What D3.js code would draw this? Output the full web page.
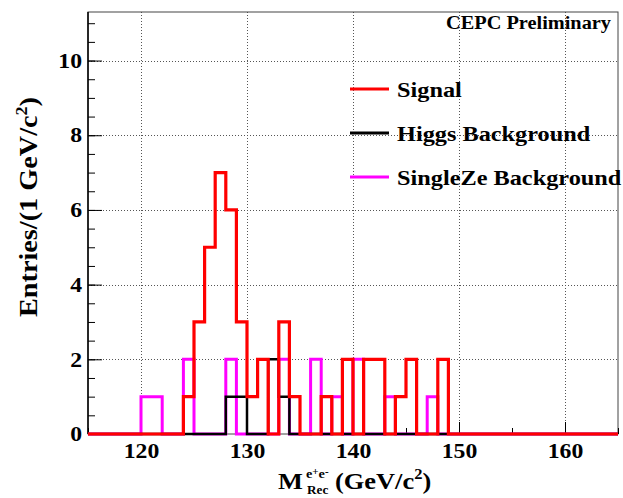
<!DOCTYPE html>
<html>
<head>
<meta charset="utf-8">
<script src="https://d3js.org/d3.v7.min.js"></script>
<style>
  body { margin: 0; background: #fff; }
  text { font-family: "Liberation Serif", "Times New Roman", serif; font-weight: bold; fill: #000; }
</style>
</head>
<body>
<script>
"use strict";

// histogram binning: 1 GeV bins from 115 to 165
var binLow = 115, binHigh = 165;

// entries per bin (115..164)
var signal = [
  0,0,0,0,0,0,0,0,0,1,
  3,5,7,6,3,1,2,0,3,1,
  0,0,1,0,2,0,2,2,0,1,
  2,0,0,2,0,0,0,0,0,0,
  0,0,0,0,0,0,0,0,0,0
];
var higgsBkg = [
  0,0,0,0,0,0,0,0,0,0,
  0,0,0,1,1,0,0,2,1,0,
  0,0,0,0,0,0,0,0,0,0,
  0,0,0,0,0,0,0,0,0,0,
  0,0,0,0,0,0,0,0,0,0
];
var singleZeBkg = [
  0,0,0,0,0,1,1,0,0,2,
  0,0,0,2,0,0,0,0,2,0,
  0,2,0,1,0,2,0,0,1,0,
  0,0,1,0,0,0,0,0,0,0,
  0,0,0,0,0,0,0,0,0,0
];

var xMajor = [120, 130, 140, 150, 160];
var xMinor = [115, 125, 135, 145, 155, 165];
var yMajor = [0, 2, 4, 6, 8, 10];
var yMinor = d3.range(0, 11.01, 0.5);
var yMax = 11.3;

var legendItems = [
  {name: "Signal", color: "#ff0000"},
  {name: "Higgs Background", color: "#000000"},
  {name: "SingleZe Background", color: "#ff00ff"}
];

var width = 623, height = 498;
var frame = {left: 88, right: 618, top: 12, bottom: 434};
var K = 1.13; // ROOT's Times glyphs come out wider than Liberation Serif

var svg = d3.select("body").append("svg")
    .attr("width", width)
    .attr("height", height);

var x = d3.scaleLinear().domain([binLow, binHigh]).range([frame.left, frame.right]);
var y = d3.scaleLinear().domain([0, yMax]).range([frame.bottom, frame.top]);

// widen a text around its anchor point
function stretch(sel, k) {
  sel.each(function() {
    var t = d3.select(this);
    var tx = +t.attr("x") || 0, ty = +t.attr("y") || 0;
    var pre = t.attr("transform") || "";
    t.attr("x", 0).attr("y", 0)
     .attr("transform", pre + " translate(" + tx + "," + ty + ") scale(" + k + ",1)");
  });
}

// dotted grid
var grid = svg.append("g").attr("class", "grid")
    .attr("stroke", "#555").attr("stroke-width", 1).attr("stroke-dasharray", "1,2");
grid.selectAll("line.gx").data(xMajor).enter().append("line")
    .attr("x1", d => Math.round(x(d)) + 0.5).attr("x2", d => Math.round(x(d)) + 0.5)
    .attr("y1", frame.top).attr("y2", frame.bottom);
grid.selectAll("line.gy").data(yMajor.filter(d => d > 0)).enter().append("line")
    .attr("y1", d => Math.round(y(d)) + 0.5).attr("y2", d => Math.round(y(d)) + 0.5)
    .attr("x1", frame.left).attr("x2", frame.right);

// frame
svg.append("rect")
    .attr("x", frame.left).attr("y", frame.top)
    .attr("width", frame.right - frame.left).attr("height", frame.bottom - frame.top)
    .attr("fill", "none").attr("stroke", "#444").attr("stroke-width", 1);

// axes with ROOT style inward ticks
function styleAxis(g) {
  g.select(".domain").remove();
  g.selectAll(".tick line").attr("stroke", "#000").attr("stroke-width", 1);
}
svg.append("g").attr("transform", "translate(0," + frame.bottom + ")")
    .call(d3.axisBottom(x).tickValues(xMinor).tickSize(-6).tickFormat(""))
    .call(styleAxis);
svg.append("g").attr("transform", "translate(0," + frame.bottom + ")")
    .call(d3.axisBottom(x).tickValues(xMajor).tickSize(-12).tickPadding(21).tickFormat(d3.format("d")))
    .call(styleAxis)
    .call(g => g.selectAll("text").attr("font-size", 21).attr("fill", "#000").attr("dy", "0.15em"))
    .call(g => stretch(g.selectAll("text"), K));
svg.append("g").attr("transform", "translate(" + frame.left + ",0)")
    .call(d3.axisLeft(y).tickValues(yMinor).tickSize(-7).tickFormat(""))
    .call(styleAxis);
svg.append("g").attr("transform", "translate(" + frame.left + ",0)")
    .call(d3.axisLeft(y).tickValues(yMajor).tickSize(-14).tickPadding(6).tickFormat(d3.format("d")))
    .call(styleAxis)
    .call(g => g.selectAll("text").attr("font-size", 21).attr("fill", "#000"))
    .call(g => stretch(g.selectAll("text"), K));

// left axis line
svg.append("line")
    .attr("x1", frame.left).attr("x2", frame.left)
    .attr("y1", frame.top).attr("y2", frame.bottom)
    .attr("stroke", "#000").attr("stroke-width", 1.5);

// histograms as step outlines
function stepPoints(vals) {
  var pts = vals.map((v, i) => [binLow + i, v]);
  pts.push([binLow + vals.length, vals[vals.length - 1]]);
  return pts;
}
var line = d3.line()
    .x(d => x(d[0]))
    .y(d => y(d[1]))
    .curve(d3.curveStepAfter);

var drawOrder = [
  {data: singleZeBkg, color: "#ff00ff", w: 3},
  {data: higgsBkg, color: "#000000", w: 2.5},
  {data: signal, color: "#ff0000", w: 3.2}
];
svg.selectAll("path.hist").data(drawOrder).enter().append("path")
    .attr("class", "hist")
    .attr("d", d => line(stepPoints(d.data)))
    .attr("fill", "none")
    .attr("stroke", d => d.color)
    .attr("stroke-width", d => d.w);

// legend
var leg = svg.append("g").attr("class", "legend");
legendItems.forEach(function(item, i) {
  var ly = 89 + i * 44;
  leg.append("line")
      .attr("x1", 350).attr("x2", 389).attr("y1", ly).attr("y2", ly)
      .attr("stroke", item.color).attr("stroke-width", 3);
  leg.append("text")
      .attr("x", 397).attr("y", ly + 7.5)
      .attr("font-size", 21.5)
      .text(item.name);
});
stretch(leg.selectAll("text"), K);

// CEPC label
svg.append("text")
    .attr("x", 611).attr("y", 29)
    .attr("text-anchor", "end")
    .attr("font-size", 18)
    .text("CEPC Preliminary")
    .call(t => stretch(t, K));

// y axis title
var yt = svg.append("text")
    .attr("transform", "translate(37,207) rotate(-90) scale(" + K + ",1)")
    .attr("text-anchor", "middle")
    .attr("font-size", 25);
yt.append("tspan").text("Entries/(1 GeV/c");
yt.append("tspan").attr("font-size", 16).attr("dy", -10).text("2");
yt.append("tspan").attr("dy", 10).text(")");

// x axis title
var xt = svg.append("g");
xt.append("text").attr("x", 278).attr("y", 489).attr("font-size", 24).text("M");
var sup = xt.append("text").attr("x", 306).attr("y", 478).attr("font-size", 13);
sup.append("tspan").text("e");
sup.append("tspan").attr("font-size", 10).attr("dy", -3).text("+");
sup.append("tspan").attr("dy", 3).text("e");
sup.append("tspan").attr("font-size", 10).attr("dy", -3).text("-");
xt.append("text").attr("x", 307).attr("y", 494).attr("font-size", 12).text("Rec");
var unit = xt.append("text").attr("x", 335).attr("y", 489).attr("font-size", 24);
unit.append("tspan").text("(GeV/c");
unit.append("tspan").attr("font-size", 15).attr("dy", -10).text("2");
unit.append("tspan").attr("dy", 10).text(")");
stretch(xt.selectAll("text"), 1.1);
</script>
</body>
</html>
